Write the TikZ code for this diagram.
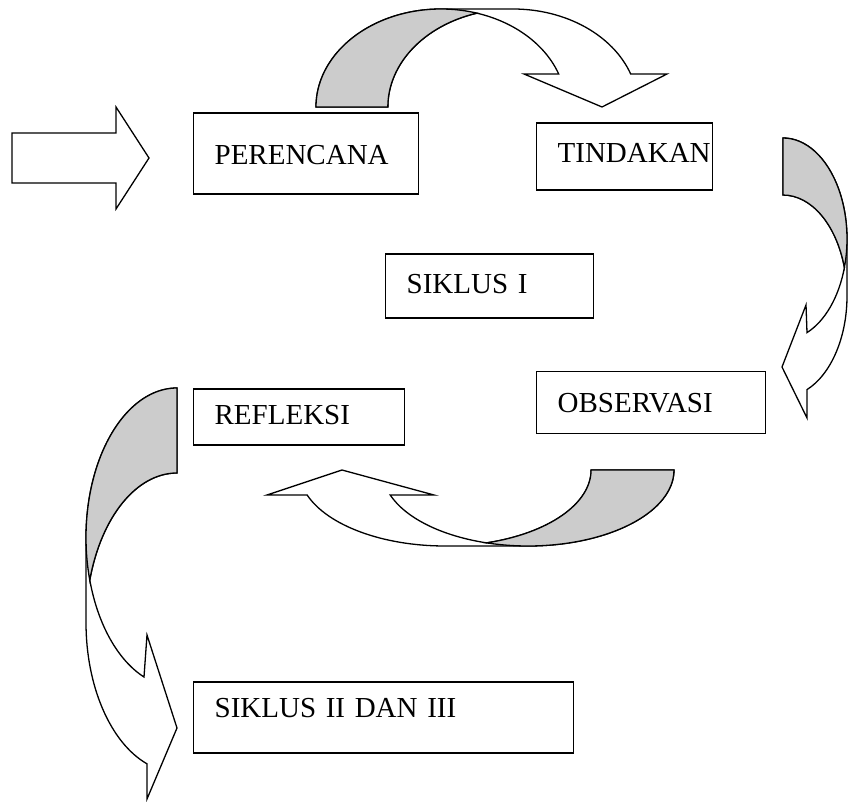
\documentclass[tikz,border=0pt]{standalone}
\usepackage{fontspec}
\setmainfont{Liberation Serif}
\tikzset{
  bx/.style={draw,line width=1.3pt,align=left,anchor=base west,inner xsep=21pt,
             inner ysep=0pt,font=\fontsize{29}{35}\selectfont},
  blk/.style={draw,fill=white,line width=1.3pt,line join=miter},
  gry/.style={draw,fill=black!20,line width=1.3pt},
}
\begin{document}
\begin{tikzpicture}[x=1pt,y=-1pt]
  \useasboundingbox (0,0) rectangle (848,802);
  \node[bx,text width=183pt,text height=52pt,text depth=29pt] (per) at (193,165) {PERENCANA};
  \node[bx,text width=134pt,text height=39.7pt,text depth=27.3pt] (tin) at (536,162.7) {TINDAKAN};
  \node[bx,text width=166pt,text height=39.3pt,text depth=24.7pt] (sik1) at (385,293.3) {SIKLUS I};
  \node[bx,text width=187pt,text height=41pt,text depth=21pt] (obs) at (536,412.5) {OBSERVASI};
  \node[bx,text width=169pt,text height=35pt,text depth=21pt] (ref) at (193,424) {REFLEKSI};
  \node[bx,text width=338pt,text height=35pt,text depth=36pt] (sik2) at (193,717) {SIKLUS II DAN III};
  \draw[blk] (12,133) -- (116,133) -- (116,107) -- (149,158) -- (116,209) -- (116,183) -- (12,183) -- cycle;
  \begin{scope}[x radius=125,y radius=98]
    \filldraw[blk] (316,107) arc[start angle=180,end angle=270] -- (513,9)
      arc[start angle=270,end angle=340.3] -- (667,74) -- (602,107) -- (524,74) -- (558.7,74)
      arc[start angle=340.3,end angle=286.7] arc[start angle=253.3,end angle=180] -- cycle;
    \filldraw[gry] (316,107) arc[start angle=180,end angle=286.7]
      arc[start angle=253.3,end angle=180] -- cycle;
  \end{scope}
  \begin{scope}[x radius=64,y radius=101]
    \filldraw[blk] (783,138) arc[start angle=270,end angle=360] -- (847,296)
      arc[start angle=0,end angle=68] -- (807,418) -- (782,367) -- (806,305) -- (807,332.6)
      arc[start angle=68,end angle=16.4] arc[start angle=343.6,end angle=270] -- cycle;
    \filldraw[gry] (783,138) arc[start angle=270,end angle=376.4]
      arc[start angle=343.6,end angle=270] -- cycle;
  \end{scope}
  \begin{scope}[x radius=146,y radius=76]
    \filldraw[blk] (674,470) arc[start angle=0,end angle=90] -- (445,546)
      arc[start angle=90,end angle=160.8] -- (267,495) -- (342,470) -- (434,495) -- (390.2,495)
      arc[start angle=160.8,end angle=106.5] arc[start angle=73.5,end angle=0] -- cycle;
    \filldraw[gry] (674,470) arc[start angle=0,end angle=106.5]
      arc[start angle=73.5,end angle=0] -- cycle;
  \end{scope}
  \begin{scope}[x radius=91,y radius=149.6]
    \filldraw[blk] (177,388) arc[start angle=270,end angle=180] -- (86,622.6)
      arc[start angle=180,end angle=109.3] -- (147,799) -- (177,728) -- (147,635) -- (144,677)
      arc[start angle=111.3,end angle=163.5] arc[start angle=196.5,end angle=270] -- cycle;
    \filldraw[gry] (177,388) arc[start angle=270,end angle=163.5]
      arc[start angle=196.5,end angle=270] -- cycle;
  \end{scope}
\end{tikzpicture}
\end{document}
